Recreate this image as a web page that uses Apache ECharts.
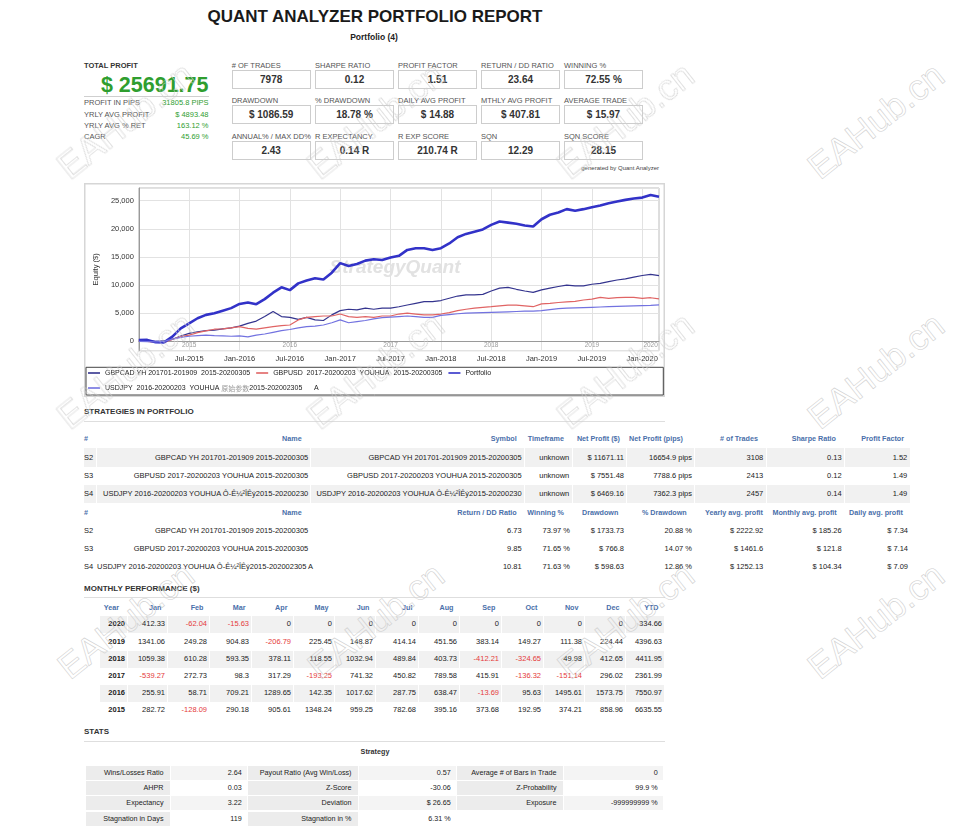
<!DOCTYPE html>
<html>
<head>
<meta charset="utf-8">
<title>Quant Analyzer Portfolio Report</title>
<script src="https://cdn.jsdelivr.net/npm/echarts@6/dist/echarts.min.js"></script>
<style>
body{margin:0;background:#fff;font-family:"Liberation Sans",Arial,sans-serif;color:#333;}
#page{position:relative;width:953px;height:835px;overflow:hidden;background:#fff;}
.t{position:absolute;white-space:nowrap;line-height:1;}
.bx{position:absolute;box-sizing:border-box;}
.wm{position:absolute;font-size:36px;line-height:1;color:transparent;-webkit-text-stroke:0.6px #cfcfcf;white-space:nowrap;pointer-events:none;z-index:10;font-family:"Liberation Sans",Arial,sans-serif;}
#main{position:absolute;left:84px;top:183px;width:581px;height:214px;}
</style>
</head>
<body>
<div id="page"><div id="main"></div></div>
<script>
// ---- chart data ----
var months = [
  '2015-01','2015-02','2015-03','2015-04','2015-05','2015-06','2015-07','2015-08','2015-09','2015-10','2015-11','2015-12',
  '2016-01','2016-02','2016-03','2016-04','2016-05','2016-06','2016-07','2016-08','2016-09','2016-10','2016-11','2016-12',
  '2017-01','2017-02','2017-03','2017-04','2017-05','2017-06','2017-07','2017-08','2017-09','2017-10','2017-11','2017-12',
  '2018-01','2018-02','2018-03','2018-04','2018-05','2018-06','2018-07','2018-08','2018-09','2018-10','2018-11','2018-12',
  '2019-01','2019-02','2019-03','2019-04','2019-05','2019-06','2019-07','2019-08','2019-09','2019-10','2019-11','2019-12',
  '2020-01','2020-02','2020-03'
];
var gbpcad = [
  240, 100, 0, 60, 350, 950, 1400, 1700, 1900, 2000, 2200, 2400,
  2700, 3200, 3600, 4400, 5300, 4400, 4250, 3900, 4250, 3800, 3700, 4700,
  5450, 5700, 5600, 5900, 5700, 5900, 5900, 6150, 6450, 6750, 7050, 7050,
  7250, 7650, 8050, 8250, 8250, 8350, 8950, 9450, 9600, 9250, 8950, 8700,
  9150, 9450, 9750, 10000, 9850, 9850, 10150, 10300, 10600, 10900, 11100, 11400,
  11700, 11900, 11671
];
var gbpusd = [
  60, 0, -200, -200, 350, 830, 1100, 1550, 1850, 2150, 2200, 2400,
  2600, 2300, 2150, 2400, 2600, 2800, 2900, 3800, 4250, 4400, 4500, 4500,
  4850, 4400, 4250, 4400, 4250, 4500, 4500, 4850, 5000, 4850, 4700, 4700,
  4850, 5100, 5450, 5700, 5900, 6050, 6150, 6300, 6450, 6450, 6300, 6150,
  6650, 6750, 6900, 7000, 7100, 7350, 7500, 7800, 7650, 7750, 7800, 7800,
  7650, 7750, 7551
];
var portfolio = [
  240, 250, -150, -200, 830, 2300, 3200, 4100, 4700, 5000, 5450, 5900,
  6650, 6900, 6600, 7500, 8650, 9600, 9100, 10300, 10800, 11200, 11000, 12200,
  13900, 13400, 13750, 14350, 14600, 14450, 14900, 15200, 16250, 16550, 16550, 16250,
  16550, 17400, 18500, 19100, 19500, 19900, 20700, 21300, 21100, 20900, 20600, 20400,
  21700, 22500, 22900, 23500, 23200, 23500, 23850, 24150, 24550, 24850, 25150, 25400,
  25550, 26000, 25692
];
var usdjpy = [
  0, -50, -100, 0, 400, 700, 900, 1000, 1100, 1000, 950, 900,
  950, 800, 1100, 1300, 1600, 1900, 2100, 2400, 2600, 2700, 2900, 3300,
  3800, 3300, 3500, 3700, 4000, 4200, 4300, 4400, 4500, 4400, 4250, 4250,
  4600, 4750, 4900, 5000, 5050, 5100, 5150, 5200, 5250, 5300, 5350, 5350,
  5450, 5650, 5800, 5900, 5950, 6000, 6050, 6100, 6150, 6200, 6250, 6300,
  6350, 6400, 6469
];
var seriesNames = [
  'GBPCAD YH 201701-201909  2015-20200305',
  'GBPUSD  2017-20200203  YOUHUA  2015-20200305',
  'Portfolio',
  'USDJPY  2016-20200203  YOUHUA 原始参数2015-202002305      A'
];
var monthNames = ['Jan','Feb','Mar','Apr','May','Jun','Jul','Aug','Sep','Oct','Nov','Dec'];
var yearMarks = ['2015-07','2016-07','2017-07','2018-07','2019-07','2020-02'];

// ---- report data ----
var leftLabels = ['PROFIT IN PIPS','YRLY AVG PROFIT','YRLY AVG % RET','CAGR'];
var leftValues = ['31805.8 PIPS','$ 4893.48','163.12 %','45.69 %'];
var metricLabels = [
  ['# OF TRADES','SHARPE RATIO','PROFIT FACTOR','RETURN / DD RATIO','WINNING %'],
  ['DRAWDOWN','% DRAWDOWN','DAILY AVG PROFIT','MTHLY AVG PROFIT','AVERAGE TRADE'],
  ['ANNUAL% / MAX DD%','R EXPECTANCY','R EXP SCORE','SQN','SQN SCORE']
];
var metricValues = [
  ['7978','0.12','1.51','23.64','72.55 %'],
  ['$ 1086.59','18.78 %','$ 14.88','$ 407.81','$ 15.97'],
  ['2.43','0.14 R','210.74 R','12.29','28.15']
];
var stratIds = ['S2','S3','S4'];
var stratNames = ['GBPCAD YH 201701-201909 2015-20200305','GBPUSD 2017-20200203 YOUHUA 2015-20200305','USDJPY 2016-20200203 YOUHUA Ô-Ê¼²ÎÊý2015-20200230'];
var stratNames2 = ['GBPCAD YH 201701-201909 2015-20200305','GBPUSD 2017-20200203 YOUHUA 2015-20200305','USDJPY 2016-20200203 YOUHUA Ô-Ê¼²ÎÊý2015-202002305 A'];
var timeframes = ['unknown','unknown','unknown'];
var netProfit = ['$ 11671.11','$ 7551.48','$ 6469.16'];
var netPips = ['16654.9 pips','7788.6 pips','7362.3 pips'];
var tradesCount = ['3108','2413','2457'];
var sharpe = ['0.13','0.12','0.14'];
var profitFactor = ['1.52','1.49','1.49'];
var retDD = ['6.73','9.85','10.81'];
var winPct = ['73.97 %','71.65 %','71.63 %'];
var ddAbs = ['$ 1733.73','$ 766.8','$ 598.63'];
var ddPct = ['20.88 %','14.07 %','12.86 %'];
var yearlyAvg = ['$ 2222.92','$ 1461.6','$ 1252.13'];
var monthlyAvg = ['$ 185.26','$ 121.8','$ 104.34'];
var dailyAvg = ['$ 7.34','$ 7.14','$ 7.09'];
var t1Heads = ['#','Name','Symbol','Timeframe','Net Profit ($)','Net Profit (pips)','# of Trades','Sharpe Ratio','Profit Factor'];
var t2Heads = ['#','Name','Return / DD Ratio','Winning %','Drawdown','% Drawdown','Yearly avg. profit','Monthly avg. profit','Daily avg. profit'];

var perfHeads = ['Year','Jan','Feb','Mar','Apr','May','Jun','Jul','Aug','Sep','Oct','Nov','Dec','YTD'];
var perfYears = ['2020','2019','2018','2017','2016','2015'];
var perf2020 = [412.33, -62.04, -15.63, 0, 0, 0, 0, 0, 0, 0, 0, 0, 334.66];
var perf2019 = [1341.06, 249.28, 904.83, -206.79, 225.45, 148.87, 414.14, 451.56, 383.14, 149.27, 111.38, 224.44, 4396.63];
var perf2018 = [1059.38, 610.28, 593.35, 378.11, 118.55, 1032.94, 489.84, 403.73, -412.21, -324.65, 49.98, 412.65, 4411.95];
var perf2017 = [-539.27, 272.73, 98.3, 317.29, -193.25, 741.32, 450.82, 789.58, 415.91, -136.32, -151.14, 296.02, 2361.99];
var perf2016 = [255.91, 58.71, 709.21, 1289.65, 142.35, 1017.62, 287.75, 638.47, -13.69, 95.63, 1495.61, 1573.75, 7550.97];
var perf2015 = [282.72, -128.09, 290.18, 905.61, 1348.24, 959.25, 782.68, 395.16, 373.68, 192.95, 374.21, 858.96, 6635.55];

var statLabels1 = ['Wins/Losses Ratio','AHPR','Expectancy','Stagnation in Days'];
var statValues1 = ['2.64','0.03','3.22','119'];
var statLabels2 = ['Payout Ratio (Avg Win/Loss)','Z-Score','Deviation','Stagnation in %'];
var statValues2 = ['0.57','-30.06','$ 26.65','6.31 %'];
var statLabels3 = ['Average # of Bars in Trade','Z-Probability','Exposure'];
var statValues3 = ['0','99.9 %','-999999999 %'];

// ---- page helpers ----
var page = document.getElementById('page');
function put(txt, x, y, css, align) {
  var d = document.createElement('div');
  d.className = 't';
  d.textContent = txt;
  d.style.left = x + 'px';
  d.style.top = y + 'px';
  var tx = align === 'r' ? '-100%' : (align === 'c' ? '-50%' : '0');
  d.style.transform = 'translate(' + tx + ',-50%)';
  d.style.cssText += css || '';
  page.appendChild(d);
  return d;
}
function box(x, y, w, h, css) {
  var d = document.createElement('div');
  d.className = 'bx';
  d.style.left = x + 'px'; d.style.top = y + 'px';
  d.style.width = w + 'px'; d.style.height = h + 'px';
  d.style.cssText += css || '';
  page.appendChild(d);
  return d;
}
var GREEN = '#2f9e2f', BLUE = '#4a6faa', RED = '#e53a3a';
var fs = 'font-size:7.5px;color:#222;';
var hs = 'font-size:7.2px;font-weight:bold;color:' + BLUE + ';';

// title
put('QUANT ANALYZER PORTFOLIO REPORT', 375, 15.5, 'font-size:17px;font-weight:bold;color:#1a1a1a;', 'c');
put('Portfolio (4)', 374, 36.5, 'font-size:8.5px;font-weight:bold;color:#222;', 'c');

// total profit block
put('TOTAL PROFIT', 84, 66, 'font-size:7.5px;font-weight:bold;color:#333;');
put('$ 25691.75', 208.5, 86, 'font-size:21.5px;font-weight:bold;color:' + GREEN + ';', 'r');
box(84, 95.5, 124.5, 1, 'background:#cfcfcf;');
var leftY = [103, 114.5, 125.5, 137];
leftLabels.forEach(function (l, i) {
  put(l, 84, leftY[i], 'font-size:7.5px;color:#555;');
  put(leftValues[i], 208.5, leftY[i], 'font-size:7.5px;color:' + GREEN + ';', 'r');
});

// metric boxes
var mX = [231.7, 315, 398, 481, 564];
var mLabelY = [66, 101, 136.7];
var mBoxY = [70, 105, 141];
metricLabels.forEach(function (row, r) {
  row.forEach(function (l, c) {
    put(l, mX[c], mLabelY[r], 'font-size:7.5px;color:#555;');
    box(mX[c], mBoxY[r], 79, 18.5, 'border:1px solid #cdcdcd;');
    put(metricValues[r][c], mX[c] + 39.5, mBoxY[r] + 9.5, 'font-size:10px;font-weight:bold;color:#333;', 'c');
  });
});
put('generated by Quant Analyzer', 659, 167.5, 'font-size:6px;color:#444;', 'r');

// section headings
function section(title, y, lineY) {
  put(title, 84, y, 'font-size:8px;font-weight:bold;color:#333;');
  box(84, lineY, 581, 1, 'background:#dedede;');
}
section('STRATEGIES IN PORTFOLIO', 412, 421);
section('MONTHLY PERFORMANCE ($)', 589, 596.5);
section('STATS', 732, 740.5);

// strategies tables
var tCells = [[84, 96], [97, 310], [311, 523.5], [524.5, 571.5], [572.5, 626], [627, 694], [695, 765.5], [766.5, 843.5], [844.5, 909.5]];
var t1HeadR = [84, 301.7, 516.7, 564, 620, 683, 758, 836, 904];
var t2HeadR = [84, 301.7, 516.7, 564, 618.3, 686.7, 763, 836.7, 903];
var t1TextR = [84, 308.3, 521.7, 569.3, 624, 692, 763.3, 841.7, 907.3];
var t2TextR = [84, 308.3, 521.7, 570, 624, 692, 763.3, 841.7, 908];
function headRow(heads, rights, y) {
  heads.forEach(function (h, i) {
    if (i === 0) put(h, 84, y, hs); else put(h, rights[i], y, hs, 'r');
  });
}
function wideCell(txt, left, right, y) {
  return put(txt, left, y, fs + 'text-align:right;width:' + (right - left) + 'px;');
}
headRow(t1Heads, t1HeadR, 439.3);
var t1Y = [457.7, 476, 494.3];
var t1Cols = [timeframes, netProfit, netPips, tradesCount, sharpe, profitFactor];
stratIds.forEach(function (id, r) {
  if (r !== 1) {
    tCells.forEach(function (c) { box(c[0], t1Y[r] - 9.5, c[1] - c[0], 18.5, 'background:#f1f1f1;'); });
  }
  put(id, 84, t1Y[r], fs);
  wideCell(stratNames[r], 97, t1TextR[1], t1Y[r]);
  wideCell(stratNames[r], 311, t1TextR[2], t1Y[r]);
  t1Cols.forEach(function (col, k) { put(col[r], t1TextR[k + 3], t1Y[r], fs, 'r'); });
});
headRow(t2Heads, t2HeadR, 513.3);
var t2Y = [530.7, 549, 566.7];
var t2Cols = [retDD, winPct, ddAbs, ddPct, yearlyAvg, monthlyAvg, dailyAvg];
stratIds.forEach(function (id, r) {
  put(id, 84, t2Y[r], fs);
  wideCell(stratNames2[r], 97, t2TextR[1], t2Y[r]);
  t2Cols.forEach(function (col, k) { put(col[r], t2TextR[k + 2], t2Y[r], fs, 'r'); });
});

// monthly performance table
var perfRight = [125, 165, 207, 249, 291, 332, 373, 416, 457, 499, 541, 582, 623, 662];
var perfRowY = [624.3, 641.7, 659, 676.3, 693.3, 710.3];
var perfRows = [perf2020, perf2019, perf2018, perf2017, perf2016, perf2015];
perfHeads.forEach(function (h, i) {
  put(h, perfRight[i] - (i === 0 ? 6 : 3.5), 608.3, hs, 'r');
});
perfRows.forEach(function (vals, r) {
  var y = perfRowY[r];
  if (r % 2 === 0) {
    perfRight.forEach(function (rt, i) {
      var left = i === 0 ? 100 : perfRight[i - 1] + 3;
      box(left, y - 8.5, rt + 2 - left, 17, 'background:#f1f1f1;');
    });
  }
  put(perfYears[r], perfRight[0], y, fs + 'font-weight:bold;', 'r');
  vals.forEach(function (v, i) {
    put(String(v), perfRight[i + 1], y, fs + (v < 0 ? 'color:' + RED + ';' : ''), 'r');
  });
});

// stats table
put('Strategy', 375, 751.7, 'font-size:7.2px;font-weight:bold;color:#333;', 'c');
var sCells = [[85.6, 170], [171, 247], [248, 358], [359, 456], [457, 563], [564, 663]];
var sRowY = [773, 788.2, 803.4, 818.5];
var statCols = [statLabels1, statValues1, statLabels2, statValues2, statLabels3, statValues3];
sRowY.forEach(function (y, r) {
  statCols.forEach(function (col, k) {
    if (col[r] === undefined) return;
    var c = sCells[k];
    var isLabel = k % 2 === 0;
    var bg = isLabel ? '#ececec' : (r % 2 === 0 ? '#f4f4f4' : '#fff');
    box(c[0], y - 7, c[1] - c[0], 14, 'background:' + bg + ';');
    put(col[r], c[1] - (isLabel ? 6.5 : 5.3), y, 'font-size:7.2px;color:#222;', 'r');
  });
});

// ---- chart ----
function isHalfYear(idx, val) {
  return idx > 0 && (val.slice(5) === '01' || val.slice(5) === '07');
}
var font = '"Liberation Sans", Arial, sans-serif';
var myChart = echarts.init(document.getElementById('main'));
var option = {
  animation: false,
  color: ['#34348e', '#e06464', '#3232c8', '#7272e0'],
  textStyle: { fontFamily: font },
  grid: { left: 52.7, right: 6, top: 5, bottom: 46.3, show: true, borderColor: '#bcbcbc', borderWidth: 1, backgroundColor: '#fff' },
  legend: {
    left: 4, top: 185.5, width: 575, padding: 0, itemGap: 6,
    itemWidth: 12, itemHeight: 1.6, icon: 'rect',
    data: seriesNames,
    formatter: function (name) { return name.replace('原始参数', '{g|原始参数}'); },
    textStyle: {
      fontSize: 7, color: '#222', height: 9, lineHeight: 9, fontFamily: font,
      rich: { g: { color: '#999', fontSize: 7, fontFamily: '"Noto Sans CJK SC"' } }
    }
  },
  xAxis: [{
    type: 'category', data: months, boundaryGap: false, position: 'bottom',
    axisLine: { lineStyle: { color: '#9a9a9a' } },
    axisTick: { show: false },
    axisLabel: {
      interval: isHalfYear, margin: 4, fontSize: 7.5, color: '#333',
      formatter: function (v) { return monthNames[+v.slice(5) - 1] + '-' + v.slice(0, 4); }
    },
    splitLine: { show: true, interval: isHalfYear, lineStyle: { color: '#e2e2e2' } }
  }, {
    type: 'category', data: months, boundaryGap: false, position: 'bottom',
    axisLine: { show: false }, axisTick: { show: false }, splitLine: { show: false },
    axisLabel: {
      inside: true, margin: 2, fontSize: 6.5, color: '#9c9c9c',
      interval: function (idx, val) { return yearMarks.indexOf(val) >= 0; },
      formatter: function (v) { return v.slice(0, 4); }
    }
  }],
  yAxis: {
    type: 'value', min: -1670, max: 27260, splitNumber: 5,
    name: 'Equity ($)', nameLocation: 'middle', nameGap: 33,
    nameTextStyle: { fontSize: 7.5, color: '#333' },
    axisLine: { show: true, lineStyle: { color: '#9a9a9a' } },
    axisTick: { show: false },
    axisLabel: {
      margin: 5, fontSize: 7.5, color: '#333',
      formatter: function (v) {
        var n = Math.abs(v) < 1e-6 ? 0 : Math.round(v);
        return n % 5000 === 0 ? n.toLocaleString('en-US') : '';
      }
    },
    splitLine: { lineStyle: { color: '#e2e2e2' } }
  },
  graphic: [
    { type: 'rect', silent: true, z: -10, shape: { x: 0.75, y: 0.75, width: 579.5, height: 212.5 }, style: { fill: 'none', stroke: '#d6d6d6', lineWidth: 1.5 } },
    { type: 'rect', silent: true, shape: { x: 2, y: 184.3, width: 577.3, height: 27.7 }, style: { fill: 'none', stroke: '#444', lineWidth: 1 } },
    { type: 'text', silent: true, z: 1, x: 311, y: 85, style: { text: 'StrategyQuant', fontSize: 19, fontWeight: 'bold', fontStyle: 'italic', fontFamily: font, fill: '#e2e2e2', align: 'center', verticalAlign: 'middle' } }
  ],
  series: [
    { name: seriesNames[0], type: 'line', data: gbpcad, showSymbol: false, lineStyle: { width: 1.2 } },
    { name: seriesNames[1], type: 'line', data: gbpusd, showSymbol: false, lineStyle: { width: 1.2 } },
    { name: seriesNames[2], type: 'line', data: portfolio, showSymbol: false, lineStyle: { width: 2.6 } },
    { name: seriesNames[3], type: 'line', data: usdjpy, showSymbol: false, lineStyle: { width: 1.2 } }
  ]
};
myChart.setOption(option);

// ---- watermarks ----
var wmDotX = [161.7, 411.7, 661.7, 911.7];
var wmDotY = [108, 358, 608];
wmDotY.forEach(function (dy) {
  wmDotX.forEach(function (dx) {
    var w = document.createElement('div');
    w.className = 'wm';
    w.textContent = 'EAHub.cn';
    w.style.left = (dx - 36) + 'px';
    w.style.top = (dy + 13) + 'px';
    w.style.transform = 'translate(-50%,-50%) rotate(-38.5deg)';
    page.appendChild(w);
  });
});
</script>
</body>
</html>
